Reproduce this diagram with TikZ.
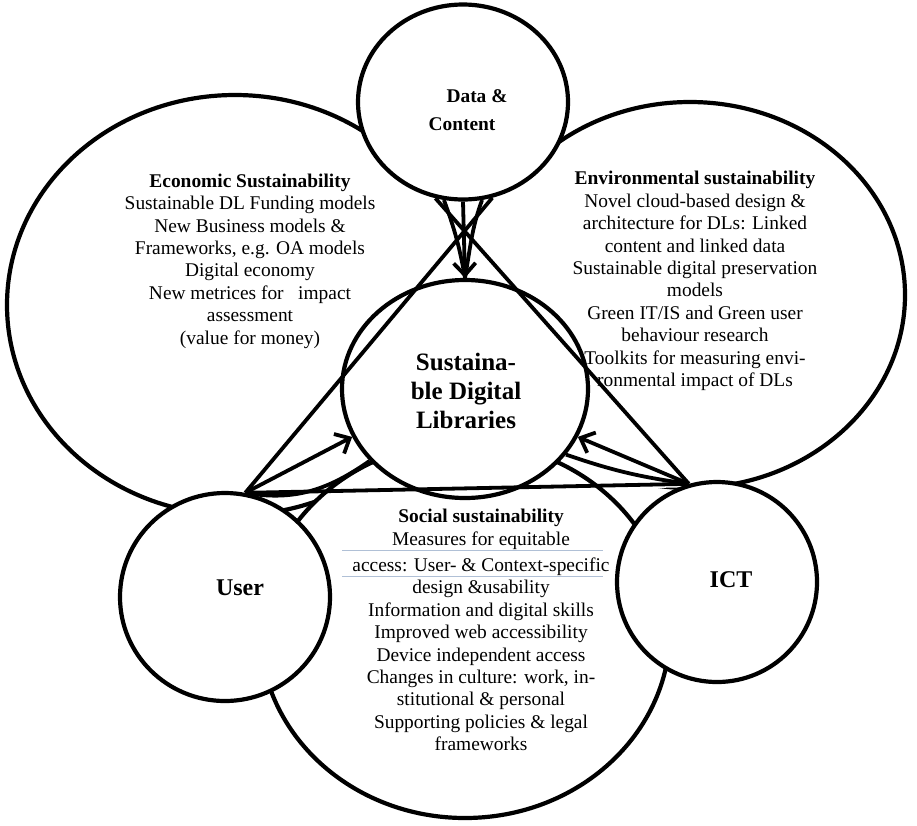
\documentclass[tikz,border=0pt]{standalone}
\usepackage{fontspec}
\setmainfont{Liberation Serif}
\usetikzlibrary{shapes.geometric,arrows.meta}

\definecolor{rulegray}{RGB}{176,192,214}

\tikzset{
  ring/.style={draw, ellipse, fill=white, line width=4.2pt, inner sep=0pt},
  link/.style={line width=3.8pt},
  arrow/.style={line width=3.8pt, -{Straight Barb[length=12pt,width=22pt,line width=3.8pt]}},
  body/.style={align=center, font=\fontsize{19.4}{22.4}\selectfont},
  bigtext/.style={align=center, font=\fontsize{25}{29}\selectfont\bfseries},
}

\begin{document}
\begin{tikzpicture}[x=1pt, y=-1pt]
    \useasboundingbox (0,0) rectangle (917,825);

    % Outer sustainability areas
    \node[ring, minimum width=456pt, minimum height=420pt] (econ) at (235,305) {};
    \node[ring, minimum width=430pt, minimum height=386pt] (env) at (690,295) {};
    % blank out the inside of the triangle
    \fill[white] (425,170) -- (515,170) -- (700,487) -- (240,497) -- cycle;
    \node[ring, minimum width=410pt, minimum height=376pt] (social) at (465,630) {};

    % Core circles
    \node[ring, minimum width=210pt, minimum height=195pt] (data) at (463,102) {};
    \node[ring, minimum width=246pt, minimum height=218pt] (sdl) at (465,389) {};
    \node[ring, minimum width=210pt, minimum height=208pt] (user) at (225,597) {};
    \node[ring, minimum width=200pt, minimum height=200pt] (ict) at (717,582) {};

    % Circle labels
    \node[body, font=\fontsize{19.4}{22.4}\selectfont\bfseries] (datatext) at (462,110) {\hspace*{30pt}Data \&\\[6pt]Content};
    \node[bigtext] (sdltext) at (466,391) {Sustaina-\\ble Digital\\Libraries};
    \node[bigtext, font=\fontsize{24}{28}\selectfont\bfseries] (usertext) at (240,588) {User};
    \node[bigtext, font=\fontsize{24}{28}\selectfont\bfseries] (icttext) at (731,580) {ICT};

    % Area texts
    \node[body] (econtext) at (250,261) {\textbf{Economic Sustainability}\\
        Sustainable DL Funding models\\ New Business models \&\\
        Frameworks, e.g. OA models\\ Digital economy\\
        New metrices for \ \ impact\\ assessment\\ (value for money)};
    \node[body] (envtext) at (695,281) {\textbf{Environmental sustainability}\\
        Novel cloud-based design \&\\ architecture for DLs: Linked\\
        content and linked data\\ Sustainable digital preservation\\
        models\\ Green IT/IS and Green user\\ behaviour research\\
        Toolkits for measuring envi-\\ ronmental impact of DLs};
    \node[body] (socialtext) at (481,630) {\textbf{Social sustainability}\\
        Measures for equitable\\[4pt] access: User- \& Context-specific\\
        design \&usability\\ Information and digital skills\\
        Improved web accessibility\\ Device independent access\\
        Changes in culture: work, in-\\ stitutional \& personal\\
        Supporting policies \& legal\\ frameworks};
    \draw[rulegray, line width=1pt] (342,550) -- (603,550);
    \draw[rulegray, line width=1pt] (342,576) -- (603,576);

    % Triangle
    \draw[link] (data.287) -- (user.79);
    \draw[link] (data.254) -- (ict.106);
    \draw[link] (user.79) -- (ict.106);

    % Connections into the core
    \draw[arrow] (data.south) -- (sdl.north);
    \draw[link] (data.259) to[out=-70, in=100] (sdl.north);
    \draw[link] (data.281) to[out=-110, in=80] (sdl.north);
    \draw[arrow] (user.79) -- (sdl.203);
    \draw[arrow] (ict.106) -- (sdl.337);
    \draw[link] (user.79) to[out=-10, in=215] (sdl.217);
    \draw[link] (ict.106) to[out=172, in=-19] (sdl.327);
\end{tikzpicture}
\end{document}
